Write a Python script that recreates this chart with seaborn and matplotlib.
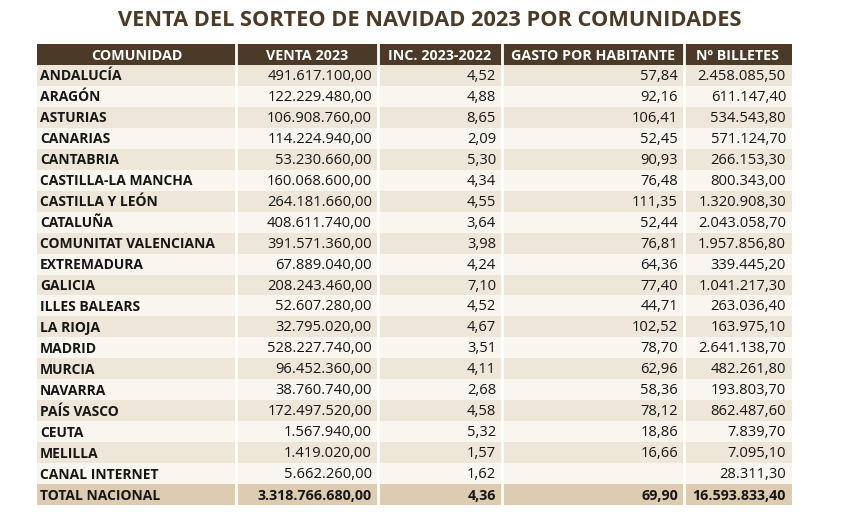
import numpy as np
import matplotlib
matplotlib.use("Agg")
import matplotlib.pyplot as plt
import seaborn as sns
from matplotlib.colors import ListedColormap

# -----------------------------
# DATA
# -----------------------------
titulo = "VENTA DEL SORTEO DE NAVIDAD 2023 POR COMUNIDADES"
cabeceras = ["COMUNIDAD", "VENTA 2023", "INC. 2023-2022", "GASTO POR HABITANTE", "Nº BILLETES"]

comunidades = [
    "ANDALUCÍA", "ARAGÓN", "ASTURIAS", "CANARIAS", "CANTABRIA", "CASTILLA-LA MANCHA",
    "CASTILLA Y LEÓN", "CATALUÑA", "COMUNITAT VALENCIANA", "EXTREMADURA", "GALICIA",
    "ILLES BALEARS", "LA RIOJA", "MADRID", "MURCIA", "NAVARRA", "PAÍS VASCO",
    "CEUTA", "MELILLA", "CANAL INTERNET",
]
venta = [
    491617100.00, 122229480.00, 106908760.00, 114224940.00, 53230660.00, 160068600.00,
    264181660.00, 408611740.00, 391571360.00, 67889040.00, 208243460.00,
    52607280.00, 32795020.00, 528227740.00, 96452360.00, 38760740.00, 172497520.00,
    1567940.00, 1419020.00, 5662260.00,
]
incremento = [
    4.52, 4.88, 8.65, 2.09, 5.30, 4.34, 4.55, 3.64, 3.98, 4.24, 7.10,
    4.52, 4.67, 3.51, 4.11, 2.68, 4.58, 5.32, 1.57, 1.62,
]
gasto = [
    57.84, 92.16, 106.41, 52.45, 90.93, 76.48, 111.35, 52.44, 76.81, 64.36, 77.40,
    44.71, 102.52, 78.70, 62.96, 58.36, 78.12, 18.86, 16.66, None,
]
billetes = [
    2458085.50, 611147.40, 534543.80, 571124.70, 266153.30, 800343.00,
    1320908.30, 2043058.70, 1957856.80, 339445.20, 1041217.30,
    263036.40, 163975.10, 2641138.70, 482261.80, 193803.70, 862487.60,
    7839.70, 7095.10, 28311.30,
]
total = ["TOTAL NACIONAL", 3318766680.00, 4.36, 69.90, 16593833.40]

# -----------------------------
# STYLE
# -----------------------------
sns.set_theme(style="white")
plt.rcParams["font.family"] = ["Open Sans", "DejaVu Sans"]

MARRON = "#4b3a27"
colores = ListedColormap([MARRON, "#eee6d8", "#f9f6f0", "#ddccb1"])
anchos = [199, 142, 124, 182, 108]   # column widths (px)
bordes = np.concatenate([[0], np.cumsum(anchos)])
FS_NOMBRE = 10.0
FS_NUM = 10.6


def es(v):
    if v is None:
        return ""
    s = f"{v:,.2f}"
    return s.replace(",", "X").replace(".", ",").replace("X", ".")


filas = [[c, v, i, g, b] for c, v, i, g, b in zip(comunidades, venta, incremento, gasto, billetes)]
filas.append(total)

# row bands: header, alternating rows, total
banda = [0] + [1 if k % 2 == 0 else 2 for k in range(len(comunidades))] + [3]
matriz = np.repeat(np.tile(np.array(banda)[:, None], (1, len(anchos))), anchos, axis=1)

# -----------------------------
# PLOT
# -----------------------------
fig = plt.figure(figsize=(8.58, 5.12), dpi=100)
ax = fig.add_axes([37 / 858, 7 / 512, sum(anchos) / 858, 461 / 512])

sns.heatmap(matriz, cmap=colores, vmin=-0.5, vmax=3.5, cbar=False,
            xticklabels=False, yticklabels=False, ax=ax)

for x in bordes[1:-1]:
    ax.axvline(x, color="white", lw=2.0)

for j, h in enumerate(cabeceras):
    ax.text((bordes[j] + bordes[j + 1]) / 2, 0.55, h, ha="center", va="center",
            color="white", fontweight="bold", fontsize=10.3)

for k, fila in enumerate(filas):
    y = k + 1.55
    negrita = k == len(filas) - 1
    ax.text(3, y, fila[0], ha="left", va="center", color="#161616",
            fontweight="bold", fontsize=FS_NOMBRE)
    for j in range(1, 5):
        ax.text(bordes[j + 1] - 6, y, es(fila[j]), ha="right", va="center",
                color="#161616", fontweight="bold" if negrita else "normal",
                fontsize=FS_NUM if not negrita else 10.3)

fig.text(430 / 858, 1 - 21 / 512, titulo, ha="center", va="center",
         color=MARRON, fontweight="bold", fontsize=15.7)

fig.savefig("out.png", dpi=100, facecolor="white")
plt.close(fig)
